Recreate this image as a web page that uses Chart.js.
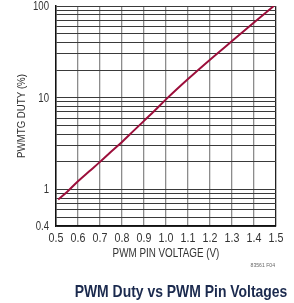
<!DOCTYPE html>
<html>
<head>
<meta charset="utf-8">
<script src="https://cdn.jsdelivr.net/npm/chart.js@4.4.1/dist/chart.umd.min.js"></script>
<style>
html,body{margin:0;padding:0;background:#fff;}
#wrap{width:294px;height:303px;position:relative;}
</style>
</head>
<body>
<div id="wrap"><canvas id="c" width="294" height="303"></canvas></div>
<script>
// ---- data ----
const pinVoltage = [0.51, 0.55, 0.60, 0.65, 0.70, 0.75, 0.80, 0.85, 0.90, 0.95, 1.00, 1.10, 1.20, 1.30, 1.40, 1.49];
const pwmDuty    = [0.78, 0.94, 1.23, 1.57, 2.0, 2.58, 3.3, 4.3, 5.6, 7.3, 9.6, 16, 26, 41.5, 66, 100];
const xTickValues = [0.5, 0.6, 0.7, 0.8, 0.9, 1.0, 1.1, 1.2, 1.3, 1.4, 1.5];
const yTickValues = [0.4,0.5,0.6,0.7,0.8,0.9,1,2,3,4,5,6,7,8,9,10,20,30,40,50,60,70,80,90,100];
const yTickLabels = [0.4, 1, 10, 100];
const xTitle = 'PWM PIN VOLTAGE (V)';
const yTitle = 'PWMTG DUTY (%)';
const chartTitle = 'PWM Duty vs PWM Pin Voltages';
const figNote = '83561 F04';

const FAM = "'Liberation Sans', Arial, sans-serif";

function drawText(ctx, text, x, y, font, sx, align, baseline, color, rot) {
  ctx.save();
  ctx.translate(x, y);
  if (rot) ctx.rotate(rot);
  ctx.scale(sx, 1);
  ctx.font = font;
  ctx.fillStyle = color;
  ctx.textAlign = align;
  ctx.textBaseline = baseline;
  ctx.fillText(text, 0, 0);
  ctx.restore();
}

const extraText = {
  id: 'extraText',
  afterDraw(chart) {
    const ctx = chart.ctx;
    const xs = chart.scales.x, ys = chart.scales.y;
    const area = chart.chartArea;
    // x tick labels
    xTickValues.forEach(v => {
      drawText(ctx, v.toFixed(1), xs.getPixelForValue(v), area.bottom + 12, '13px ' + FAM, 0.82, 'center', 'middle', '#333');
    });
    // y tick labels
    yTickLabels.forEach(v => {
      drawText(ctx, String(v), area.left - 7, ys.getPixelForValue(v) + 0.5, '12px ' + FAM, 0.8, 'right', 'middle', '#333');
    });
    // axis titles
    drawText(ctx, xTitle, (area.left + area.right) / 2, 254, '12px ' + FAM, 0.82, 'center', 'middle', '#333');
    drawText(ctx, yTitle, 21.5, (area.top + area.bottom) / 2, '11px ' + FAM, 0.88, 'center', 'middle', '#333', -Math.PI / 2);
    // figure note and caption
    drawText(ctx, figNote, 275, 265, '6px ' + FAM, 0.85, 'right', 'middle', '#666');
    drawText(ctx, chartTitle, 181, 297, 'bold 17px ' + FAM, 0.82, 'center', 'alphabetic', '#1b2a4e');
  }
};

const pts = pinVoltage.map((v, i) => ({x: v, y: pwmDuty[i]}));

new Chart(document.getElementById('c'), {
  type: 'line',
  data: {
    datasets: [{
      data: pts,
      borderColor: '#9c0f3b',
      borderWidth: 2,
      pointRadius: 0,
      fill: false,
      cubicInterpolationMode: 'monotone'
    }]
  },
  options: {
    responsive: false,
    animation: false,
    layout: { padding: { left: 0, right: 18, top: 6, bottom: 0 } },
    plugins: { legend: { display: false }, tooltip: { enabled: false } },
    scales: {
      x: {
        type: 'linear',
        min: 0.5, max: 1.5,
        afterFit(s) { s.height = 77; },
        afterBuildTicks(s) { s.ticks = xTickValues.map(v => ({value: v})); },
        border: { display: true, color: '#111', width: 1.5 },
        grid: {
          drawTicks: false,
          color: (c) => (c.index === xTickValues.length - 1 ? '#222' : '#8c8c8c'),
          lineWidth: 1.3
        },
        ticks: { display: false }
      },
      y: {
        type: 'logarithmic',
        min: 0.4, max: 100,
        afterFit(s) { s.width = 56; },
        afterBuildTicks(s) { s.ticks = yTickValues.map(v => ({value: v})); },
        border: { display: true, color: '#111', width: 1.5 },
        grid: {
          drawTicks: false,
          color: '#3a3a3a',
          lineWidth: 1
        },
        ticks: { display: false }
      }
    }
  },
  plugins: [extraText]
});
</script>
</body>
</html>
